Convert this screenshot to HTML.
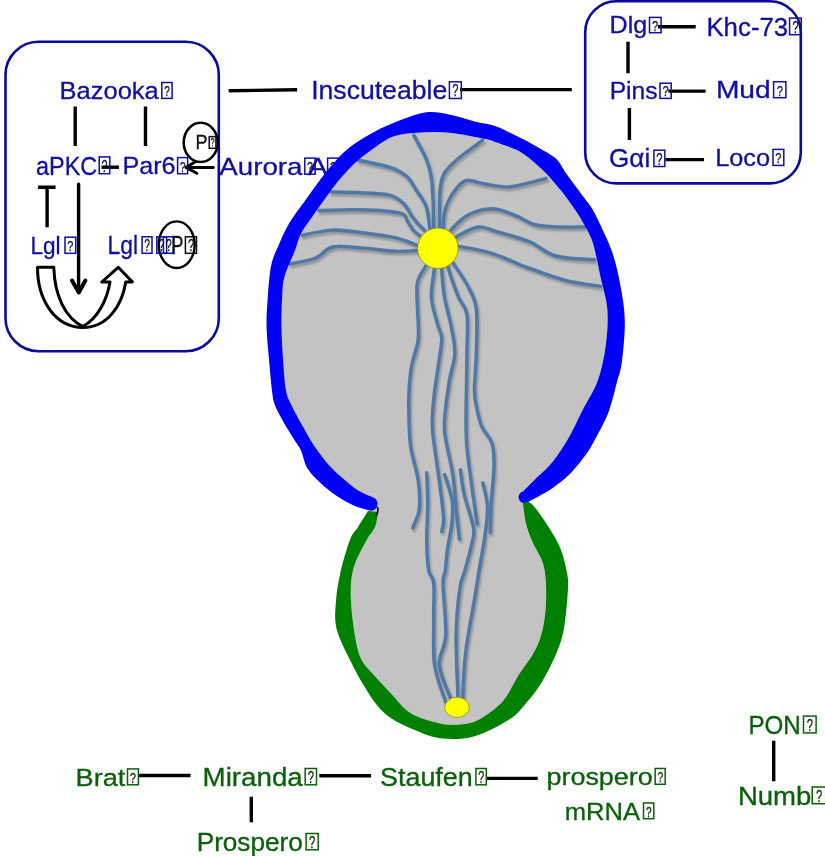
<!DOCTYPE html>
<html><head><meta charset="utf-8"><style>
html,body{margin:0;padding:0;background:#fff;width:825px;height:856px;overflow:hidden}
svg{display:block;will-change:transform}
</style></head><body>
<svg width="825" height="856" viewBox="0 0 825 856">
<defs>
<filter id="sh" x="-10%" y="-10%" width="120%" height="120%"><feGaussianBlur stdDeviation="1.2"/></filter>
</defs>
<g font-family='"Liberation Sans", sans-serif'>
<!-- boxes -->
<rect x="5.5" y="41.8" width="213.3" height="309.4" rx="33" ry="33" fill="none" stroke="#0a0a9c" stroke-width="2.6"/>
<rect x="585.2" y="1.3" width="215.6" height="182.1" rx="31" ry="31" fill="none" stroke="#0a0a9c" stroke-width="2.6"/>
<!-- connector lines -->
<g stroke="#000" stroke-width="3.4" stroke-linecap="butt" fill="none">
<path d="M75.2 106.5V145.9M145.5 106.5V145.9"/>
<path d="M101.5 167.2H119"/>
<path d="M38.1 187.3H55.6M47.1 187.3V227.2"/>
<path d="M228.7 90.8L297.2 89.7M460 89.6H571.8"/>
<path d="M628 41.8V73.3M629.4 107.9V140"/>
<path d="M658 26.8H695.7M668.4 91.1H705.6M665.5 159.6H704"/>
<path d="M138.4 775.5H190.5M319.3 775.7H371.1M486.8 778.4H537.7"/>
<path d="M251.3 796.8V822.3M773.7 740.7V781.3"/>
</g>
<g stroke="#000" stroke-width="3" fill="none" stroke-linecap="round" stroke-linejoin="round">
<path d="M213.3 167.4H187"/>
<path d="M195.8 161.5L186 167.4L196.8 173.2"/>
<path d="M78.6 184.1V292" stroke-width="3.4"/>
<path d="M72 280.5L78.8 292.5L85.4 280.5" stroke-width="4"/>
<ellipse cx="200.7" cy="142.4" rx="17" ry="19.6" stroke-width="2.6"/>
<ellipse cx="176.7" cy="244.7" rx="18" ry="23.3" stroke-width="2.4"/>
</g>
<!-- U-turn arrow -->
<path d="M37.5 267.3H53.8C54.5 295 65 318 83 326.5C98 318 107 300 110 282H101.8L118.2 267.3L132.4 281.9H125.8C122 305 108 327.5 83 327.5C55 327.5 37.5 300 37.5 267.3Z" fill="#fff" stroke="#000" stroke-width="3" stroke-linejoin="round"/>
<text x="59.6" y="99.2" font-size="24.5" fill="#0f0fa0" stroke="#0f0fa0" stroke-width="0.3" textLength="99.1" lengthAdjust="spacingAndGlyphs">Bazooka</text><rect x="161.8" y="82.5" width="10.3" height="15.9" fill="none" stroke="#0f0fa0" stroke-width="1.5"/><text x="164.1" y="96.4" font-size="15.3" fill="#141430" stroke="#141430" stroke-width="0.3" textLength="5.9" lengthAdjust="spacingAndGlyphs">?</text><text x="36.1" y="174.5" font-size="25.8" fill="#0f0fa0" stroke="#0f0fa0" stroke-width="0.3" textLength="61.2" lengthAdjust="spacingAndGlyphs">aPKC</text><rect x="99.2" y="156.9" width="10.6" height="16.8" fill="none" stroke="#0f0fa0" stroke-width="1.5"/><text x="101.5" y="171.7" font-size="16.1" fill="#141430" stroke="#141430" stroke-width="0.3" textLength="6" lengthAdjust="spacingAndGlyphs">?</text><text x="122.4" y="174.4" font-size="24.8" fill="#0f0fa0" stroke="#0f0fa0" stroke-width="0.3" textLength="53.2" lengthAdjust="spacingAndGlyphs">Par6</text><rect x="177.6" y="157.6" width="10" height="16.1" fill="none" stroke="#0f0fa0" stroke-width="1.5"/><text x="179.7" y="171.6" font-size="15.5" fill="#141430" stroke="#141430" stroke-width="0.3" textLength="5.8" lengthAdjust="spacingAndGlyphs">?</text><text x="219.3" y="174.9" font-size="24.8" fill="#0f0fa0" stroke="#0f0fa0" stroke-width="0.3" textLength="83.2" lengthAdjust="spacingAndGlyphs">Aurora</text><rect x="304.8" y="158.1" width="10.4" height="16.1" fill="none" stroke="#0f0fa0" stroke-width="1.5"/><text x="307" y="172.1" font-size="15.5" fill="#141430" stroke="#141430" stroke-width="0.3" textLength="5.9" lengthAdjust="spacingAndGlyphs">?</text><text x="30.4" y="254" font-size="24.8" fill="#0f0fa0" stroke="#0f0fa0" stroke-width="0.3" textLength="30.2" lengthAdjust="spacingAndGlyphs">Lgl</text><rect x="65" y="237.2" width="10.7" height="16.1" fill="none" stroke="#0f0fa0" stroke-width="1.5"/><text x="67.3" y="251.2" font-size="15.5" fill="#141430" stroke="#141430" stroke-width="0.3" textLength="6.1" lengthAdjust="spacingAndGlyphs">?</text><text x="107.5" y="254" font-size="25.4" fill="#0f0fa0" stroke="#0f0fa0" stroke-width="0.3" textLength="30.5" lengthAdjust="spacingAndGlyphs">Lgl</text><rect x="142.1" y="236.8" width="9.9" height="16.5" fill="none" stroke="#0f0fa0" stroke-width="1.5"/><text x="144.2" y="251.2" font-size="15.8" fill="#141430" stroke="#141430" stroke-width="0.3" textLength="5.7" lengthAdjust="spacingAndGlyphs">?</text><rect x="156.8" y="236.8" width="9.8" height="16.5" fill="none" stroke="#0f0fa0" stroke-width="1.5"/><text x="158.8" y="251.2" font-size="15.8" fill="#141430" stroke="#141430" stroke-width="0.3" textLength="5.7" lengthAdjust="spacingAndGlyphs">?</text><rect x="163.4" y="236.8" width="10.5" height="16.5" fill="none" stroke="#0f0fa0" stroke-width="1.5"/><text x="165.7" y="251.2" font-size="15.8" fill="#141430" stroke="#141430" stroke-width="0.3" textLength="6" lengthAdjust="spacingAndGlyphs">?</text><text x="311.2" y="99.2" font-size="25.7" fill="#0f0fa0" stroke="#0f0fa0" stroke-width="0.3" textLength="136" lengthAdjust="spacingAndGlyphs">Inscuteable</text><rect x="449.4" y="81.8" width="11.9" height="16.7" fill="none" stroke="#0f0fa0" stroke-width="1.5"/><text x="452.3" y="96.4" font-size="16" fill="#141430" stroke="#141430" stroke-width="0.3" textLength="6.2" lengthAdjust="spacingAndGlyphs">?</text><text x="609.6" y="33.4" font-size="23.7" fill="#0f0fa0" stroke="#0f0fa0" stroke-width="0.3" textLength="37.7" lengthAdjust="spacingAndGlyphs">Dlg</text><rect x="649.5" y="17.4" width="11.6" height="15.3" fill="none" stroke="#0f0fa0" stroke-width="1.5"/><text x="652.1" y="30.6" font-size="14.8" fill="#141430" stroke="#141430" stroke-width="0.3" textLength="6.2" lengthAdjust="spacingAndGlyphs">?</text><text x="706.4" y="35.5" font-size="25.5" fill="#0f0fa0" stroke="#0f0fa0" stroke-width="0.3" textLength="81.8" lengthAdjust="spacingAndGlyphs">Khc-73</text><rect x="789.6" y="18.1" width="11.6" height="16.6" fill="none" stroke="#0f0fa0" stroke-width="1.5"/><text x="792.4" y="32.7" font-size="15.9" fill="#141430" stroke="#141430" stroke-width="0.3" textLength="6.2" lengthAdjust="spacingAndGlyphs">?</text><text x="609.7" y="99.1" font-size="23.5" fill="#0f0fa0" stroke="#0f0fa0" stroke-width="0.3" textLength="47.8" lengthAdjust="spacingAndGlyphs">Pins</text><rect x="660" y="83.2" width="11.2" height="15.2" fill="none" stroke="#0f0fa0" stroke-width="1.5"/><text x="662.5" y="96.3" font-size="14.7" fill="#141430" stroke="#141430" stroke-width="0.3" textLength="6.2" lengthAdjust="spacingAndGlyphs">?</text><text x="715.9" y="98.4" font-size="24.7" fill="#0f0fa0" stroke="#0f0fa0" stroke-width="0.3" textLength="54.8" lengthAdjust="spacingAndGlyphs">Mud</text><rect x="773.6" y="81.7" width="12.3" height="16" fill="none" stroke="#0f0fa0" stroke-width="1.5"/><text x="776.7" y="95.6" font-size="15.4" fill="#141430" stroke="#141430" stroke-width="0.3" textLength="6.2" lengthAdjust="spacingAndGlyphs">?</text><text x="609.1" y="167.3" font-size="25.1" fill="#0f0fa0" stroke="#0f0fa0" stroke-width="0.3" textLength="41.1" lengthAdjust="spacingAndGlyphs">G&#945;i</text><rect x="653.9" y="150.2" width="10.9" height="16.3" fill="none" stroke="#0f0fa0" stroke-width="1.5"/><text x="656.2" y="164.5" font-size="15.7" fill="#141430" stroke="#141430" stroke-width="0.3" textLength="6.2" lengthAdjust="spacingAndGlyphs">?</text><text x="715.2" y="166.2" font-size="24.7" fill="#0f0fa0" stroke="#0f0fa0" stroke-width="0.3" textLength="54.8" lengthAdjust="spacingAndGlyphs">Loco</text><rect x="773" y="149.4" width="10.8" height="16" fill="none" stroke="#0f0fa0" stroke-width="1.5"/><text x="775.3" y="163.4" font-size="15.4" fill="#141430" stroke="#141430" stroke-width="0.3" textLength="6.1" lengthAdjust="spacingAndGlyphs">?</text><text x="75.6" y="785.5" font-size="24.5" fill="#0a600a" stroke="#0a600a" stroke-width="0.3" textLength="49.7" lengthAdjust="spacingAndGlyphs">Brat</text><rect x="127.5" y="768.9" width="10.9" height="15.9" fill="none" stroke="#0a600a" stroke-width="1.5"/><text x="129.8" y="782.7" font-size="15.3" fill="#0a2a0a" stroke="#0a2a0a" stroke-width="0.3" textLength="6.2" lengthAdjust="spacingAndGlyphs">?</text><text x="202.6" y="785.5" font-size="25.1" fill="#0a600a" stroke="#0a600a" stroke-width="0.3" textLength="100.2" lengthAdjust="spacingAndGlyphs">Miranda</text><rect x="305.2" y="768.5" width="11.3" height="16.3" fill="none" stroke="#0a600a" stroke-width="1.5"/><text x="307.8" y="782.7" font-size="15.7" fill="#0a2a0a" stroke="#0a2a0a" stroke-width="0.3" textLength="6.2" lengthAdjust="spacingAndGlyphs">?</text><text x="380.1" y="785.5" font-size="25.1" fill="#0a600a" stroke="#0a600a" stroke-width="0.3" textLength="92.6" lengthAdjust="spacingAndGlyphs">Staufen</text><rect x="475.9" y="768.5" width="10.4" height="16.3" fill="none" stroke="#0a600a" stroke-width="1.5"/><text x="478.2" y="782.7" font-size="15.7" fill="#0a2a0a" stroke="#0a2a0a" stroke-width="0.3" textLength="6" lengthAdjust="spacingAndGlyphs">?</text><text x="546.5" y="785" font-size="24.4" fill="#0a600a" stroke="#0a600a" stroke-width="0.3" textLength="106.2" lengthAdjust="spacingAndGlyphs">prospero</text><rect x="655.2" y="768.5" width="10" height="15.8" fill="none" stroke="#0a600a" stroke-width="1.5"/><text x="657.4" y="782.2" font-size="15.2" fill="#0a2a0a" stroke="#0a2a0a" stroke-width="0.3" textLength="5.8" lengthAdjust="spacingAndGlyphs">?</text><text x="564.7" y="819.5" font-size="24.3" fill="#0a600a" stroke="#0a600a" stroke-width="0.3" textLength="75.3" lengthAdjust="spacingAndGlyphs">mRNA</text><rect x="643.5" y="803" width="10.3" height="15.7" fill="none" stroke="#0a600a" stroke-width="1.5"/><text x="645.7" y="816.7" font-size="15.1" fill="#0a2a0a" stroke="#0a2a0a" stroke-width="0.3" textLength="5.9" lengthAdjust="spacingAndGlyphs">?</text><text x="196.7" y="850.5" font-size="25.1" fill="#0a600a" stroke="#0a600a" stroke-width="0.3" textLength="106.1" lengthAdjust="spacingAndGlyphs">Prospero</text><rect x="306.1" y="833.5" width="12.1" height="16.3" fill="none" stroke="#0a600a" stroke-width="1.5"/><text x="309.1" y="847.7" font-size="15.7" fill="#0a2a0a" stroke="#0a2a0a" stroke-width="0.3" textLength="6.2" lengthAdjust="spacingAndGlyphs">?</text><text x="748.4" y="733.7" font-size="25.8" fill="#0a600a" stroke="#0a600a" stroke-width="0.3" textLength="52.3" lengthAdjust="spacingAndGlyphs">PON</text><rect x="803.5" y="716.1" width="12.6" height="16.8" fill="none" stroke="#0a600a" stroke-width="1.5"/><text x="806.7" y="730.9" font-size="16.1" fill="#0a2a0a" stroke="#0a2a0a" stroke-width="0.3" textLength="6.2" lengthAdjust="spacingAndGlyphs">?</text><text x="737.9" y="804.5" font-size="25.7" fill="#0a600a" stroke="#0a600a" stroke-width="0.3" textLength="73.4" lengthAdjust="spacingAndGlyphs">Numb</text><rect x="812.2" y="787" width="13.5" height="16.7" fill="none" stroke="#0a600a" stroke-width="1.5"/><text x="815.9" y="801.7" font-size="16" fill="#0a2a0a" stroke="#0a2a0a" stroke-width="0.3" textLength="6.2" lengthAdjust="spacingAndGlyphs">?</text><text x="307.8" y="174.9" font-size="24.8" fill="#0f0fa0" stroke="#0f0fa0" stroke-width="0.3" textLength="19.9" lengthAdjust="spacingAndGlyphs">A</text><rect x="327.6" y="158.1" width="10.6" height="16.1" fill="none" stroke="#0f0fa0" stroke-width="1.5"/><text x="329.9" y="172.1" font-size="15.5" fill="#101040" stroke="#101040" stroke-width="0.3" textLength="6.1" lengthAdjust="spacingAndGlyphs">?</text><text x="170.9" y="254" font-size="25.4" fill="#111" stroke="#111" stroke-width="0.3" textLength="12.4" lengthAdjust="spacingAndGlyphs">P</text><rect x="185.4" y="236.8" width="11.1" height="16.5" fill="none" stroke="#111" stroke-width="1.5"/><text x="187.9" y="251.2" font-size="15.8" fill="#111" stroke="#111" stroke-width="0.3" textLength="6.2" lengthAdjust="spacingAndGlyphs">?</text><text x="195.4" y="149.4" font-size="20.4" fill="#111" stroke="#111" stroke-width="0.3" textLength="12.1" lengthAdjust="spacingAndGlyphs">P</text><rect x="209.2" y="136.6" width="6.7" height="11.7" fill="none" stroke="#111" stroke-width="1.5"/><text x="210.6" y="146.2" font-size="11.6" fill="#111" stroke="#111" stroke-width="0.3" textLength="4.1" lengthAdjust="spacingAndGlyphs">?</text>
<!-- cell -->
<path d="M362 497C361 495.1 362.3 493.8 360 491.5C357.7 489.2 353.2 487.1 348.3 483C343.4 478.9 336 472.9 330.3 466.6C324.6 460.3 318.6 452.2 314 445.4C309.4 438.6 306.3 432.6 302.5 425.8C298.7 419 293.9 410.5 291.1 404.5C288.3 398.5 287.2 397 285.9 390C284.6 383 284 373 283.3 362.6C282.6 352.2 281.6 339.3 281.5 327.6C281.4 315.9 281.8 301.3 282.4 292.5C283 283.7 282.9 282.1 285 275C287.1 267.9 292.6 256.9 295.2 250C297.8 243.1 298.1 239.3 300.9 233.8C303.7 228.3 307.9 223.1 312.1 217C316.3 210.9 321.7 203.4 326.1 197.3C330.5 191.2 334 186.1 338.7 180.5C343.4 174.9 349 168.6 354.2 163.7C359.4 158.8 363.7 155.4 370 151C376.3 146.6 384.1 140.1 392 137C399.9 133.9 408.1 133.4 417.6 132.7C427.1 132 437.8 131.6 449.1 132.7C460.4 133.8 477.9 137.5 485.5 139C493.1 140.5 491 140.6 495 141.9C499 143.2 505.2 145.3 509.5 147C513.8 148.7 516.9 149.9 520.5 152.1C524.1 154.3 527.2 156.6 531.4 160.1C535.6 163.6 541.6 168.8 545.9 173.2C550.2 177.5 554.2 182.6 557.3 186.2C560.4 189.8 562.1 191.8 564.5 194.9C566.9 198.1 569.1 201.2 571.8 205.1C574.5 209 577.2 212.5 580.5 218.2C583.8 223.8 588.8 232 591.5 239C594.2 246 595.5 253.7 597 260C598.5 266.3 598.8 268.8 600.5 277C602.2 285.2 606.4 298 607.3 309.2C608.2 320.4 607.4 332.5 605.9 344.3C604.4 356.1 602 368.9 598 380C594 391.1 586.9 401.6 582.1 411.1C577.3 420.6 573.9 428.8 569 437.2C564.1 445.6 558.2 454.9 552.7 461.7C547.2 468.5 541.2 473.2 536.3 478.1C531.4 483 525 488.1 523.3 491.2C521.6 494.3 524.9 494.7 526 497C527.1 499.3 530 500.4 530 505C530 509.6 525.8 518.2 526.2 524.5C526.7 530.8 530 536.3 532.7 542.6C535.4 548.9 540.4 555.7 542.6 562.2C544.8 568.7 545.3 574.4 545.8 581.8C546.3 589.2 546.4 598 545.8 606.4C545.2 614.8 544 624.4 542 632C540 639.6 538 645 534 652.3C530 659.6 523.2 667.9 518 676C512.8 684.1 509.3 693.8 503 701C496.7 708.2 486.8 715.1 480 719C473.2 722.9 468.7 723.5 462 724.2C455.3 724.9 448.5 725.2 440 723.4C431.5 721.6 419.3 718.5 411.2 713.6C403.1 708.7 397.6 700.3 391.5 694C385.4 687.7 379.5 681.5 374.4 675.6C369.3 669.7 364.2 665.4 360.9 658.4C357.6 651.4 356.3 643.9 354.6 633.5C352.9 623.1 351 607 350.8 596.1C350.6 585.2 351 577.4 353.6 568C356.2 558.6 363.1 546.8 366.7 540C370.3 533.2 374.4 531 375 527C375.6 523 371.5 520 370 516C368.5 512 367.3 506.2 366 503C364.7 499.8 363 498.9 362 497Z" fill="#c3c3c3"/>
<g filter="url(#sh)" opacity="0.35" transform="translate(1.5,2.5)" stroke="#333" stroke-width="3.4" fill="none" stroke-linecap="round"><path d="M358 160C363.3 161.2 381.9 164.7 390 167.4C398.1 170.1 402.4 172.8 406.7 176.4C411 180.1 412.5 184.4 415.7 189.3C418.9 194.2 423.6 199.6 426 206C428.4 212.4 428.8 222.8 429.8 227.8C430.8 232.8 431.6 234.6 432 236"/><path d="M413.8 135.3C415.8 139.2 423.1 151.6 426 158.4C428.9 165.2 429.9 169.1 431.1 176.4C432.3 183.7 432.7 193.5 433.1 202.1C433.5 210.7 433.6 222.2 433.7 227.8C433.8 233.5 433.9 234.6 434 236"/><path d="M330.8 191.9C335.9 192 351.5 192.1 361.4 192.7C371.3 193.3 383.1 193.5 390.2 195.3C397.3 197.2 399.8 199.9 403.8 203.8C407.8 207.8 410.5 214.5 414 219C417.5 223.5 422.3 227.9 425 230.9C427.7 233.9 429.2 236 430 237"/><path d="M318.9 210.5C326 210.4 347.8 209.3 361.4 209.7C375 210.1 392.8 211.3 400.4 213.1C408 214.9 404.9 217.7 407.2 220.7C409.5 223.7 411 227.8 414 230.9C417 234 422.7 237.6 425 239.4C427.3 241.2 427.5 241.6 428 242"/><path d="M302 235.2C307.1 234.3 322.6 230.5 332.5 230.1C342.4 229.7 350.9 231.3 361.4 232.6C371.9 233.9 386 235.6 395.3 237.7C404.6 239.8 412.4 243.6 417.4 245.3C422.3 247 423.7 247.6 425 248"/><path d="M290.1 264C294.3 263 308.4 260.9 315.5 258.1C322.6 255.3 324.9 248.7 332.5 247C340.1 245.3 350.9 247.2 361.4 247.9C371.9 248.6 385.7 250.9 395.3 251.3C404.9 251.7 414.2 250.5 419.1 250.4C424.1 250.3 424 250.9 425 251"/><path d="M482.5 140.4C478.2 143.6 463.2 154.1 456.8 159.7C450.4 165.3 446.8 168.9 444 173.8C441.2 178.7 440.9 183.5 440.1 189.3C439.4 195.1 439.6 202.1 439.5 208.5C439.4 214.9 439.5 223.6 439.5 227.8C439.5 232.1 439.5 233 439.5 234"/><path d="M546 178.5C542.8 179.3 533.2 181.9 526.7 183.3C520.2 184.7 514.2 186.9 507.3 187C500.4 187.1 491.7 185.1 485 184C478.3 182.9 471.8 179.6 467.1 180.3C462.4 181 460 184.4 456.8 188C453.6 191.6 449.9 197.6 447.8 202.1C445.7 206.6 444.8 210.7 444 215C443.2 219.3 443.5 224.6 443.3 227.8C443.1 231 443.1 233 443 234"/><path d="M447 238C447.8 236.6 447.9 233.3 451.5 229.4C455.1 225.5 461.6 218.2 468.5 214.8C475.4 211.4 484.6 208.6 492.7 208.8C500.8 209 510.1 213.5 517 216.1C523.9 218.7 527.1 222.7 534 224.5C540.9 226.3 549.7 226.6 558.2 227C566.7 227.4 580.4 227 584.8 227"/><path d="M450 242C451.1 241.1 451.7 239.2 456.4 236.7C461.1 234.2 471.3 227.8 478.2 227C485.1 226.2 489.1 229.4 497.6 231.8C506.1 234.2 519.4 237.5 529.1 241.5C538.8 245.5 544.9 253 555.8 256C566.7 259 588 259.1 594.5 259.7"/><path d="M452 247C453.1 246.9 452 245.3 458.8 246.4C465.6 247.5 481 250 492.7 253.6C504.4 257.2 517 263.8 529.1 268.2C541.2 272.6 553.6 277.3 565.5 280.3C577.4 283.3 594.8 285.4 600.6 286.4"/><path d="M428 262C427.5 262.9 426.7 264.1 424.9 267.5C423.1 270.9 418.6 275.9 417.4 282.4C416.1 288.9 417.2 297.3 417.4 306.7C417.5 316.1 419.2 328.8 418.3 338.5C417.4 348.2 413.4 356 411.8 364.7C410.2 373.4 409.5 381.6 409 390.8C408.5 400 408.7 410.6 409 420C409.3 429.4 409.2 437.2 410.8 447.4C412.4 457.6 416.9 470.7 418.3 481C419.7 491.3 420.2 501.2 419.3 509C418.4 516.8 413.8 524.7 412.7 527.8"/><path d="M434.5 262C434.4 263.2 434.7 263.4 434.2 269.3C433.7 275.2 430.8 288 431.4 297.4C432 306.8 436.2 318.5 437.9 325.4C439.6 332.2 441.7 331.3 441.7 338.5C441.7 345.7 439.1 359 437.9 368.4C436.6 377.8 435.1 386 434.2 394.6C433.3 403.2 432.4 412.8 432.3 420C432.2 427.2 432.1 427.2 433.3 438C434.6 448.8 438.1 471.4 439.8 484.8C441.5 498.2 443.3 510.6 443.6 518.4C443.9 526.2 442 529.3 441.7 531.5"/><path d="M441.5 262C441.5 263.4 441.2 264.4 441.7 270.3C442.2 276.2 442.9 288.2 444.5 297.4C446.1 306.6 449.3 316 451 325.4C452.7 334.8 455.1 344.1 454.8 353.5C454.5 362.9 450.9 370.4 449.2 381.5C447.5 392.6 445.1 410.6 444.5 420C443.9 429.4 444 428.8 445.4 438C446.8 447.2 451 462.9 452.9 475.4C454.8 487.9 455.5 502.2 456.6 512.8C457.7 523.4 458.9 534.6 459.4 539"/><path d="M447 262C447.4 263.5 447.3 265.3 449.2 271.2C451.1 277.1 455.6 290.2 458.5 297.4C461.4 304.6 465.5 304.8 466.9 314.2C468.3 323.6 467 335.9 466.9 353.5C466.8 371.1 466 404.4 466 420C466 435.6 466 436.6 466.9 447.4C467.8 458.2 469.9 472 471.6 484.8C473.3 497.6 476.3 517.5 477.2 524"/><path d="M451 260C451.6 260.9 452 261.2 454.8 265.6C457.6 270 464.3 279 467.9 286.2C471.5 293.4 474.9 297.4 476.3 308.6C477.7 319.8 476.6 339.8 476.3 353.5C476 367.2 474.2 381.4 474.4 390.8C474.5 400.2 475.9 404 477.2 410C478.4 416 479.4 421.2 481.9 426.8C484.4 432.4 490.1 437.1 492.1 443.6C494.1 450.2 494.1 456.1 494 466.1C493.9 476.1 491.8 492.4 491.2 503.5C490.6 514.5 490.4 527.6 490.3 532.4"/><path d="M426.7 472.6C426.9 477.8 427.7 492.1 427.7 503.5C427.7 514.9 426.5 529.7 426.7 540.8C426.9 551.9 427.4 563 428.6 570C429.8 577 432.9 575.3 433.7 583C434.5 590.7 433.5 602.5 433.7 616.1C433.9 629.7 432.6 650.4 434.6 664.8C436.6 679.1 443.9 696 445.8 702.2"/><path d="M444.5 474.5C445.8 478.7 450.8 491.8 452 499.7C453.2 507.6 452.8 513.7 452 522.1C451.2 530.5 448.4 542.2 447.3 550.2C446.2 558.2 446.1 564.3 445.4 570C444.7 575.7 442.9 573.5 443 584.3C443.1 595.1 446.4 621.4 445.8 634.8C445.2 648.2 438.5 654.3 439.3 664.8C440.1 675.3 448.6 692.5 450.5 698"/><path d="M460.4 469.8C461 473.9 461.9 484.4 464.1 494.1C466.3 503.8 472.2 519.4 473.5 527.8C474.8 536.2 473 537.6 471.6 544.6C470.2 551.6 466.9 562.8 465 570C463.1 577.2 461.4 577.3 459.9 588.1C458.4 598.9 456.4 616.5 456.1 634.8C455.8 653.1 457.7 687.5 458 698"/><path d="M482.8 482.9C483.6 486.9 487.2 498.2 487.5 507.2C487.8 516.2 486.1 526.6 484.7 537.1C483.3 547.6 480.8 560 479.1 570C477.5 580 477.1 583.5 474.8 597.4C472.5 611.3 467.5 636.6 465.5 653.5C463.5 670.4 463.2 691.4 462.7 699"/></g>
<g stroke="#4d78a8" stroke-width="3.4" fill="none" stroke-linecap="round"><path d="M358 160C363.3 161.2 381.9 164.7 390 167.4C398.1 170.1 402.4 172.8 406.7 176.4C411 180.1 412.5 184.4 415.7 189.3C418.9 194.2 423.6 199.6 426 206C428.4 212.4 428.8 222.8 429.8 227.8C430.8 232.8 431.6 234.6 432 236"/><path d="M413.8 135.3C415.8 139.2 423.1 151.6 426 158.4C428.9 165.2 429.9 169.1 431.1 176.4C432.3 183.7 432.7 193.5 433.1 202.1C433.5 210.7 433.6 222.2 433.7 227.8C433.8 233.5 433.9 234.6 434 236"/><path d="M330.8 191.9C335.9 192 351.5 192.1 361.4 192.7C371.3 193.3 383.1 193.5 390.2 195.3C397.3 197.2 399.8 199.9 403.8 203.8C407.8 207.8 410.5 214.5 414 219C417.5 223.5 422.3 227.9 425 230.9C427.7 233.9 429.2 236 430 237"/><path d="M318.9 210.5C326 210.4 347.8 209.3 361.4 209.7C375 210.1 392.8 211.3 400.4 213.1C408 214.9 404.9 217.7 407.2 220.7C409.5 223.7 411 227.8 414 230.9C417 234 422.7 237.6 425 239.4C427.3 241.2 427.5 241.6 428 242"/><path d="M302 235.2C307.1 234.3 322.6 230.5 332.5 230.1C342.4 229.7 350.9 231.3 361.4 232.6C371.9 233.9 386 235.6 395.3 237.7C404.6 239.8 412.4 243.6 417.4 245.3C422.3 247 423.7 247.6 425 248"/><path d="M290.1 264C294.3 263 308.4 260.9 315.5 258.1C322.6 255.3 324.9 248.7 332.5 247C340.1 245.3 350.9 247.2 361.4 247.9C371.9 248.6 385.7 250.9 395.3 251.3C404.9 251.7 414.2 250.5 419.1 250.4C424.1 250.3 424 250.9 425 251"/><path d="M482.5 140.4C478.2 143.6 463.2 154.1 456.8 159.7C450.4 165.3 446.8 168.9 444 173.8C441.2 178.7 440.9 183.5 440.1 189.3C439.4 195.1 439.6 202.1 439.5 208.5C439.4 214.9 439.5 223.6 439.5 227.8C439.5 232.1 439.5 233 439.5 234"/><path d="M546 178.5C542.8 179.3 533.2 181.9 526.7 183.3C520.2 184.7 514.2 186.9 507.3 187C500.4 187.1 491.7 185.1 485 184C478.3 182.9 471.8 179.6 467.1 180.3C462.4 181 460 184.4 456.8 188C453.6 191.6 449.9 197.6 447.8 202.1C445.7 206.6 444.8 210.7 444 215C443.2 219.3 443.5 224.6 443.3 227.8C443.1 231 443.1 233 443 234"/><path d="M447 238C447.8 236.6 447.9 233.3 451.5 229.4C455.1 225.5 461.6 218.2 468.5 214.8C475.4 211.4 484.6 208.6 492.7 208.8C500.8 209 510.1 213.5 517 216.1C523.9 218.7 527.1 222.7 534 224.5C540.9 226.3 549.7 226.6 558.2 227C566.7 227.4 580.4 227 584.8 227"/><path d="M450 242C451.1 241.1 451.7 239.2 456.4 236.7C461.1 234.2 471.3 227.8 478.2 227C485.1 226.2 489.1 229.4 497.6 231.8C506.1 234.2 519.4 237.5 529.1 241.5C538.8 245.5 544.9 253 555.8 256C566.7 259 588 259.1 594.5 259.7"/><path d="M452 247C453.1 246.9 452 245.3 458.8 246.4C465.6 247.5 481 250 492.7 253.6C504.4 257.2 517 263.8 529.1 268.2C541.2 272.6 553.6 277.3 565.5 280.3C577.4 283.3 594.8 285.4 600.6 286.4"/><path d="M428 262C427.5 262.9 426.7 264.1 424.9 267.5C423.1 270.9 418.6 275.9 417.4 282.4C416.1 288.9 417.2 297.3 417.4 306.7C417.5 316.1 419.2 328.8 418.3 338.5C417.4 348.2 413.4 356 411.8 364.7C410.2 373.4 409.5 381.6 409 390.8C408.5 400 408.7 410.6 409 420C409.3 429.4 409.2 437.2 410.8 447.4C412.4 457.6 416.9 470.7 418.3 481C419.7 491.3 420.2 501.2 419.3 509C418.4 516.8 413.8 524.7 412.7 527.8"/><path d="M434.5 262C434.4 263.2 434.7 263.4 434.2 269.3C433.7 275.2 430.8 288 431.4 297.4C432 306.8 436.2 318.5 437.9 325.4C439.6 332.2 441.7 331.3 441.7 338.5C441.7 345.7 439.1 359 437.9 368.4C436.6 377.8 435.1 386 434.2 394.6C433.3 403.2 432.4 412.8 432.3 420C432.2 427.2 432.1 427.2 433.3 438C434.6 448.8 438.1 471.4 439.8 484.8C441.5 498.2 443.3 510.6 443.6 518.4C443.9 526.2 442 529.3 441.7 531.5"/><path d="M441.5 262C441.5 263.4 441.2 264.4 441.7 270.3C442.2 276.2 442.9 288.2 444.5 297.4C446.1 306.6 449.3 316 451 325.4C452.7 334.8 455.1 344.1 454.8 353.5C454.5 362.9 450.9 370.4 449.2 381.5C447.5 392.6 445.1 410.6 444.5 420C443.9 429.4 444 428.8 445.4 438C446.8 447.2 451 462.9 452.9 475.4C454.8 487.9 455.5 502.2 456.6 512.8C457.7 523.4 458.9 534.6 459.4 539"/><path d="M447 262C447.4 263.5 447.3 265.3 449.2 271.2C451.1 277.1 455.6 290.2 458.5 297.4C461.4 304.6 465.5 304.8 466.9 314.2C468.3 323.6 467 335.9 466.9 353.5C466.8 371.1 466 404.4 466 420C466 435.6 466 436.6 466.9 447.4C467.8 458.2 469.9 472 471.6 484.8C473.3 497.6 476.3 517.5 477.2 524"/><path d="M451 260C451.6 260.9 452 261.2 454.8 265.6C457.6 270 464.3 279 467.9 286.2C471.5 293.4 474.9 297.4 476.3 308.6C477.7 319.8 476.6 339.8 476.3 353.5C476 367.2 474.2 381.4 474.4 390.8C474.5 400.2 475.9 404 477.2 410C478.4 416 479.4 421.2 481.9 426.8C484.4 432.4 490.1 437.1 492.1 443.6C494.1 450.2 494.1 456.1 494 466.1C493.9 476.1 491.8 492.4 491.2 503.5C490.6 514.5 490.4 527.6 490.3 532.4"/><path d="M426.7 472.6C426.9 477.8 427.7 492.1 427.7 503.5C427.7 514.9 426.5 529.7 426.7 540.8C426.9 551.9 427.4 563 428.6 570C429.8 577 432.9 575.3 433.7 583C434.5 590.7 433.5 602.5 433.7 616.1C433.9 629.7 432.6 650.4 434.6 664.8C436.6 679.1 443.9 696 445.8 702.2"/><path d="M444.5 474.5C445.8 478.7 450.8 491.8 452 499.7C453.2 507.6 452.8 513.7 452 522.1C451.2 530.5 448.4 542.2 447.3 550.2C446.2 558.2 446.1 564.3 445.4 570C444.7 575.7 442.9 573.5 443 584.3C443.1 595.1 446.4 621.4 445.8 634.8C445.2 648.2 438.5 654.3 439.3 664.8C440.1 675.3 448.6 692.5 450.5 698"/><path d="M460.4 469.8C461 473.9 461.9 484.4 464.1 494.1C466.3 503.8 472.2 519.4 473.5 527.8C474.8 536.2 473 537.6 471.6 544.6C470.2 551.6 466.9 562.8 465 570C463.1 577.2 461.4 577.3 459.9 588.1C458.4 598.9 456.4 616.5 456.1 634.8C455.8 653.1 457.7 687.5 458 698"/><path d="M482.8 482.9C483.6 486.9 487.2 498.2 487.5 507.2C487.8 516.2 486.1 526.6 484.7 537.1C483.3 547.6 480.8 560 479.1 570C477.5 580 477.1 583.5 474.8 597.4C472.5 611.3 467.5 636.6 465.5 653.5C463.5 670.4 463.2 691.4 462.7 699"/></g>
<path d="M371.2 510.8C368.5 510 360.5 508.3 354.8 505.9C349.1 503.4 342.5 499.9 336.8 496.1C331.1 492.3 325.4 487.6 320.5 483C315.6 478.4 310.7 473.8 307.4 468.3C304.1 462.9 303.3 455.5 300.9 450.3C298.4 445.1 295.7 442.1 292.7 437.2C289.7 432.3 285.9 426.3 282.9 420.9C279.9 415.4 276.5 409.6 274.7 404.5C272.9 399.4 272.8 397 271.9 390C271 383 270.2 373 269.3 362.6C268.4 352.2 266.9 337.8 266.6 327.6C266.3 317.4 266.8 311.5 267.5 301.3C268.2 291.1 269.2 275.6 271 266.3C272.8 257 275.3 253 278.4 245.7C281.5 238.4 285.2 230 289.6 222.6C294 215.2 299.7 208.3 304.5 201.5C309.3 194.7 313.8 188.2 318.5 181.9C323.2 175.6 328 169.3 333 163.7C338 158.1 342.3 153.1 348.5 148.2C354.7 143.3 362.5 138.4 370 134.2C377.5 130 384.2 126.6 393.3 123C402.4 119.4 415.5 114 424.8 112.6C434.1 111.2 440.6 113 449.1 114.5C457.6 116 468.2 119.9 475.8 121.8C483.4 123.7 489.4 124.1 495 125.9C500.6 127.7 504.6 130.2 509.5 132.5C514.4 134.8 519.2 137.2 524.1 139.7C529 142.2 533.3 144.6 538.6 147.7C543.9 150.8 551.5 154.6 555.8 158.5C560.1 162.4 561.6 166.8 564.5 170.9C567.4 175 570.4 179.3 573.3 183.3C576.2 187.3 579.1 191 582 194.9C584.9 198.8 588 202.3 590.7 206.5C593.4 210.7 594.5 212.5 598 220C601.5 227.5 608.2 240.6 612 251.6C615.8 262.6 618.4 274.3 620.5 285.9C622.6 297.4 624.6 308.2 624.8 320.9C625 333.5 623.2 351.6 621.9 361.8C620.6 372 619.3 373.5 617 382C614.7 390.5 611.9 403.2 608.3 412.7C604.7 422.2 599 431.8 595.2 438.9C591.4 446 589.8 449.2 585.4 455.2C581 461.2 574.5 469.4 569 474.8C563.5 480.2 558.7 483.8 552.7 487.9C546.7 492 537.6 496.8 533.1 499.3C528.6 501.8 527.2 502.4 526 503A6 6 0 0 1 523.3 491.2C525.5 489 531.4 483 536.3 478.1C541.2 473.2 547.2 468.5 552.7 461.7C558.2 454.9 564.1 445.6 569 437.2C573.9 428.8 577.3 420.6 582.1 411.1C586.9 401.6 594 391.1 598 380C602 368.9 604.4 356.1 605.9 344.3C607.4 332.5 608.2 320.4 607.3 309.2C606.4 298 602.2 285.2 600.5 277C598.8 268.8 598.5 266.3 597 260C595.5 253.7 594.2 246 591.5 239C588.8 232 583.8 223.8 580.5 218.2C577.2 212.5 574.5 209 571.8 205.1C569.1 201.2 566.9 198.1 564.5 194.9C562.1 191.8 560.4 189.8 557.3 186.2C554.2 182.6 550.2 177.5 545.9 173.2C541.6 168.8 535.6 163.6 531.4 160.1C527.2 156.6 524.1 154.3 520.5 152.1C516.9 149.9 513.8 148.7 509.5 147C505.2 145.3 499 143.2 495 141.9C491 140.6 493.1 140.5 485.5 139C477.9 137.5 460.4 133.8 449.1 132.7C437.8 131.6 427.1 132 417.6 132.7C408.1 133.4 399.9 133.9 392 137C384.1 140.1 376.3 146.6 370 151C363.7 155.4 359.4 158.8 354.2 163.7C349 168.6 343.4 174.9 338.7 180.5C334 186.1 330.5 191.2 326.1 197.3C321.7 203.4 316.3 210.9 312.1 217C307.9 223.1 303.7 228.3 300.9 233.8C298.1 239.3 297.8 243.1 295.2 250C292.6 256.9 287.1 267.9 285 275C282.9 282.1 283 283.7 282.4 292.5C281.8 301.3 281.4 315.9 281.5 327.6C281.6 339.3 282.6 352.2 283.3 362.6C284 373 284.6 383 285.9 390C287.2 397 288.3 398.5 291.1 404.5C293.9 410.5 298.7 419 302.5 425.8C306.3 432.6 309.4 438.6 314 445.4C318.6 452.2 324.6 460.3 330.3 466.6C336 472.9 343.4 478.9 348.3 483C353.2 487.1 356.1 489.2 360 491.5C363.9 493.8 370 496.1 372 497A7 7 0 0 1 371.2 510.8Z" fill="#0000f8"/>
<path d="M368 511C366.3 513.7 361 522.2 358 527C355 531.8 352.8 532.5 349.9 540C347 547.5 342.9 561.5 340.6 571.8C338.3 582.1 336.5 592.1 335.9 601.7C335.3 611.4 334.1 619.2 336.8 629.7C339.5 640.2 347.7 655 352.3 664.5C356.9 674 360.4 679.9 364.5 686.6C368.6 693.4 372.3 699.7 376.8 705C381.3 710.3 385.4 714.4 391.5 718.5C397.6 722.6 405.5 726.3 413.6 729.6C421.7 732.9 430 737.1 440 738.2C450 739.3 462.1 739.6 473.8 736.4C485.5 733.2 501.1 724.7 510 719C518.9 713.3 521.6 708.2 527 702C532.4 695.8 537.1 690 542.1 681.7C547.1 673.4 553.1 661.2 556.8 652.3C560.4 643.3 562.1 638.4 564 628C565.9 617.6 567.4 599.1 567.9 590C568.4 580.9 568.3 580.4 567.1 573.6C565.9 566.8 563.6 556.7 560.6 549.1C557.6 541.5 553.8 535.2 549.1 527.8C544.5 520.4 536.7 509.2 532.7 504.9C528.7 500.6 526.3 502.5 525 502L522.9 503C523.5 506.6 524.6 517.9 526.2 524.5C527.8 531.1 530 536.3 532.7 542.6C535.4 548.9 540.4 555.7 542.6 562.2C544.8 568.7 545.3 574.4 545.8 581.8C546.3 589.2 546.4 598 545.8 606.4C545.2 614.8 544 624.4 542 632C540 639.6 538 645 534 652.3C530 659.6 523.2 667.9 518 676C512.8 684.1 509.3 693.8 503 701C496.7 708.2 486.8 715.1 480 719C473.2 722.9 468.7 723.5 462 724.2C455.3 724.9 448.5 725.2 440 723.4C431.5 721.6 419.3 718.5 411.2 713.6C403.1 708.7 397.6 700.3 391.5 694C385.4 687.7 379.5 681.5 374.4 675.6C369.3 669.7 364.2 665.4 360.9 658.4C357.6 651.4 356.3 643.9 354.6 633.5C352.9 623.1 351 607 350.8 596.1C350.6 585.2 351 577.4 353.6 568C356.2 558.6 363.1 546.8 366.7 540C370.3 533.2 373.1 531.7 375 527C376.9 522.3 377.5 514.5 378 512Z" fill="#008000"/>
<path d="M377.6 507.5Q378.6 512 376.2 515.5" stroke="#111" stroke-width="1.7" fill="none" stroke-linecap="round"/>
<circle cx="437.9" cy="248.2" r="20.3" fill="#ffff00" stroke="#8a8a20" stroke-width="0.8"/>
<ellipse cx="457" cy="707.4" rx="12.3" ry="10.2" fill="#ffff00" stroke="#8a8a20" stroke-width="0.8"/>
</g>
</svg>
</body></html>
